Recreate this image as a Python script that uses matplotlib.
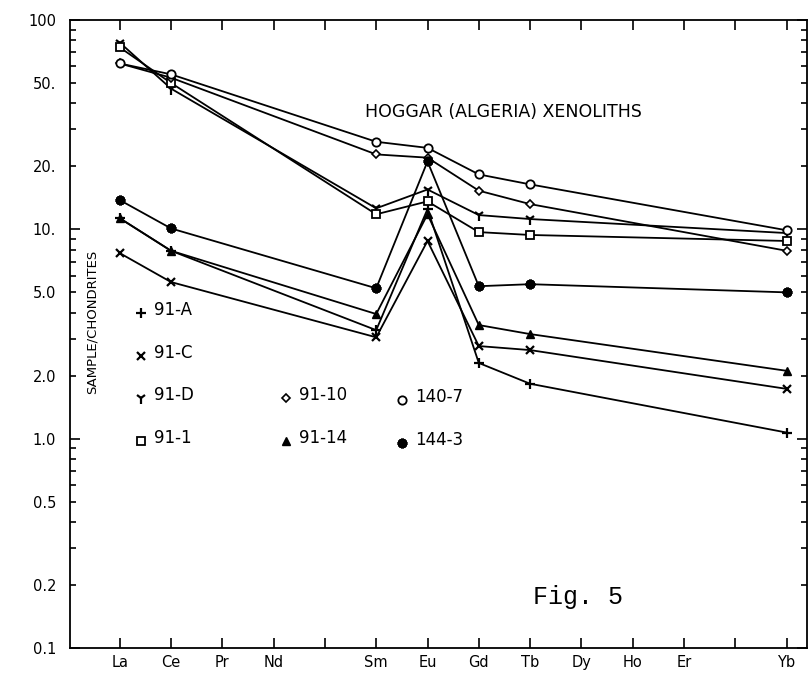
import matplotlib
matplotlib.use('Agg')
import matplotlib.pyplot as plt
from matplotlib.ticker import FixedLocator, FuncFormatter

# REE sequence on the x axis (Pm and Tm have a tick but no label)
elements = ['La', 'Ce', 'Pr', 'Nd', 'Pm', 'Sm', 'Eu', 'Gd', 'Tb', 'Dy', 'Ho', 'Er', 'Tm', 'Yb']
tick_labels = ['La', 'Ce', 'Pr', 'Nd', '', 'Sm', 'Eu', 'Gd', 'Tb', 'Dy', 'Ho', 'Er', '', 'Yb']
measured = ['La', 'Ce', 'Sm', 'Eu', 'Gd', 'Tb', 'Yb']

# sample / chondrite values
s_91A = [11.3, 7.9, 3.3, 12.5, 2.3, 1.83, 1.07]
s_91C = [7.7, 5.6, 3.05, 8.8, 2.77, 2.65, 1.73]
s_91D = [78, 47, 12.6, 15.5, 11.7, 11.2, 9.6]
s_911 = [74, 50, 11.8, 13.6, 9.7, 9.4, 8.8]
s_9110 = [62, 53, 22.8, 22, 15.3, 13.2, 7.9]
s_9114 = [11.3, 7.9, 3.94, 11.8, 3.49, 3.16, 2.11]
s_1407 = [62, 55, 26.2, 24.5, 18.3, 16.4, 9.9]
s_1443 = [13.8, 10.1, 5.23, 21.1, 5.35, 5.47, 5.0]

samples = ['91-A', '91-C', '91-D', '91-1', '91-10', '91-14', '140-7', '144-3']
values = [s_91A, s_91C, s_91D, s_911, s_9110, s_9114, s_1407, s_1443]

# marker style for each sample
styles = {
    '91-A': dict(marker='+', ms=7, mew=1.6),
    '91-C': dict(marker='x', ms=6, mew=1.6),
    '91-D': dict(marker='1', ms=8, mew=1.6),
    '91-1': dict(marker='s', ms=5.5, mew=1.3, mfc='white'),
    '91-10': dict(marker='D', ms=4.5, mew=1.2, mfc='white'),
    '91-14': dict(marker='^', ms=5.5, mew=1.0, mfc='black'),
    '140-7': dict(marker='o', ms=6, mew=1.3, mfc='white'),
    '144-3': dict(marker=(8, 2, 0), ms=7, mew=2.2),
}

# where the key entries sit (axes fraction)
key_pos = {
    '91-A': (0.096, 0.533), '91-C': (0.096, 0.465), '91-D': (0.096, 0.398),
    '91-1': (0.096, 0.330), '91-10': (0.293, 0.398), '91-14': (0.293, 0.330),
    '140-7': (0.450, 0.395), '144-3': (0.450, 0.327),
}

plt.rcParams['font.family'] = ['DejaVu Sans']
fig = plt.figure(figsize=(8.1, 6.78), dpi=100)
ax = fig.add_axes([0.0864, 0.0442, 0.91, 0.9263])

xpos = [elements.index(e) + 1 for e in measured]
for name, vals in zip(samples, values):
    ax.plot(xpos, vals, color='black', lw=1.3, mec='black', **styles[name])

ax.set_yscale('log')
ax.set_ylim(0.1, 100)
ax.set_xlim(0.03, 14.4)

ax.xaxis.set_major_locator(FixedLocator(range(1, len(elements) + 1)))
ax.set_xticklabels(tick_labels)

ax.yaxis.set_major_locator(FixedLocator([0.1, 1, 10, 100]))
minor = [m * 10.0 ** d for d in (-1, 0, 1) for m in range(2, 10)]
ax.yaxis.set_minor_locator(FixedLocator(minor))
major_lab = {0.1: '0.1', 1: '1.0', 10: '10.', 100: '100'}
minor_lab = {0.2: '0.2', 0.5: '0.5', 2: '2.0', 5: '5.0', 20: '20.', 50: '50.'}


def fmt_major(v, pos):
    for k, s in major_lab.items():
        if abs(v - k) < 1e-6 * k:
            return s
    return ''


def fmt_minor(v, pos):
    for k, s in minor_lab.items():
        if abs(v - k) < 1e-6 * k:
            return s
    return ''


ax.yaxis.set_major_formatter(FuncFormatter(fmt_major))
ax.yaxis.set_minor_formatter(FuncFormatter(fmt_minor))

ax.tick_params(which='both', direction='in', top=True, right=True, colors='black',
               labelsize=10.5)
ax.tick_params(which='major', length=7, width=1.2)
ax.tick_params(which='minor', length=4, width=1.2)
ax.tick_params(axis='y', which='both', pad=10)
ax.tick_params(axis='x', which='both', pad=5)
for sp in ax.spines.values():
    sp.set_linewidth(1.3)

# key
for name in samples:
    kx, ky = key_pos[name]
    ax.plot([kx], [ky], transform=ax.transAxes, color='black', mec='black',
            linestyle='none', clip_on=False, **styles[name])
    ax.text(kx + 0.018, ky + 0.005, name, transform=ax.transAxes, fontsize=12,
            va='center', ha='left')

ax.text(0.03, 0.52, 'SAMPLE/CHONDRITES', transform=ax.transAxes, rotation=90,
        fontsize=9.5, va='center', ha='center')
ax.text(0.40, 0.853, 'HOGGAR (ALGERIA) XENOLITHS', transform=ax.transAxes,
        fontsize=12.5, va='center', ha='left')
ax.text(0.628, 0.081, 'Fig. 5', transform=ax.transAxes, fontsize=18,
        family='Liberation Mono', va='center', ha='left')

fig.savefig('out.png', dpi=100)
